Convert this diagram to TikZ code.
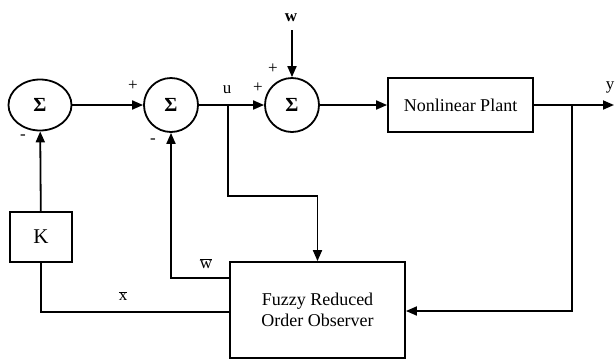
\documentclass[tikz,border=0pt]{standalone}
\usepackage{fontspec}
\setmainfont{Liberation Serif}
\usetikzlibrary{arrows.meta,shapes.geometric}
\begin{document}
\begin{tikzpicture}[x=1pt,y=-1pt,
  sumnode/.style={draw, circle, line width=1.8pt, minimum size=54pt, inner sep=0pt,
    font=\fontsize{20}{20}\selectfont\bfseries},
  block/.style={draw, rectangle, line width=1.8pt, inner sep=0pt,
    font=\fontsize{18}{21}\selectfont},
  sig/.style={line width=1.8pt},
  arr/.style={sig, -{Triangle[length=11pt,width=9pt]}},
  lbl/.style={inner sep=0pt, font=\fontsize{17}{17}\selectfont}]
  \useasboundingbox (0,0) rectangle (616,360);

  % summing junctions and blocks
  \node[sumnode, ellipse, minimum width=63pt, minimum height=51pt] (S1) at (40,105) {Σ};
  \node[sumnode] (S2) at (171,105) {Σ};
  \node[sumnode] (S3) at (292,105) {Σ};
  \node[block, minimum width=145pt, minimum height=54pt] (P) at (460.5,105) {Nonlinear Plant};
  \node[block, minimum width=62pt, minimum height=50pt, font=\fontsize{21}{21}\selectfont] (K) at (41,237) {K};
  \node[block, minimum width=175pt, minimum height=96pt, align=center] (O) at (317.5,310) {Fuzzy Reduced\\Order Observer};

  \coordinate (Y) at (614,105);
  \coordinate (W) at (292,30);
  \coordinate (ub) at (228,105);
  \coordinate (uc) at (228,196);
  \coordinate (yb) at (572,105);

  % forward path
  \draw[arr] (S1) -- (S2);
  \draw[arr] (S2) -- (S3);
  \draw[arr] (S3) -- (P);
  \draw[arr] (P) -- (Y);
  \draw[arr] (W) -- (S3);

  % feedback paths
  \draw[arr] (K) -- (S1);
  \draw[sig] (K) |- ([yshift=-2pt]O.west);
  \draw[arr] ([yshift=32pt]O.west) -| (S2);
  \draw[arr] (ub) -- (uc) -| (O);
  \draw[arr] (yb) |- ([yshift=-1pt]O.east);

  % labels
  \node[lbl] (u) at (227,90) {u};
  \node[lbl] (y) at (610,87) {y};
  \node[lbl, font=\fontsize{17}{17}\selectfont\bfseries] (w) at (291,18) {w};
  \node[lbl] (p2) at (133,86) {+};
  \node[lbl] (p3a) at (258,88) {+};
  \node[lbl] (p3b) at (273,69) {+};
  \node[lbl] (m1) at (23,137) {-};
  \node[lbl] (m2) at (153,141) {-};
  \node[lbl] (xbar) at (123,296) {$\overline{\hbox{x}}$};
  \node[lbl] (wbar) at (206,264) {$\overline{\hbox{w}}$};
\end{tikzpicture}
\end{document}
